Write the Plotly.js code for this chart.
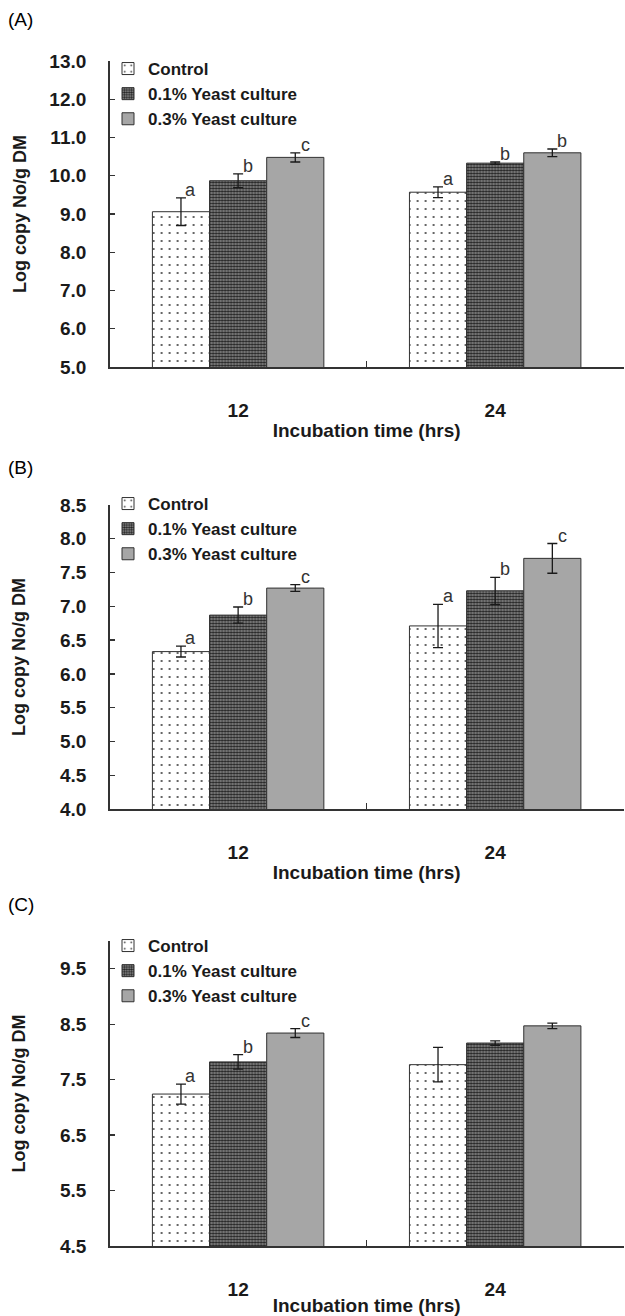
<!DOCTYPE html>
<html>
<head>
<meta charset="utf-8">
<script src="https://cdn.plot.ly/plotly-3.0.1.min.js"></script>
<style>html,body{margin:0;padding:0;background:#fff;}#chart{width:625px;height:1316px;}</style>
</head>
<body>
<div id="chart"></div>
<script>
// ---------- data ----------
const categories = ['12', '24'];
const seriesNames = ['Control', '0.1% Yeast culture', '0.3% Yeast culture'];
const panelLabels = ['(A)', '(B)', '(C)'];
const xTitle = 'Incubation time (hrs)';
const yTitle = 'Log copy No/g DM';

// Panel A
const aControl = [9.06, 9.57];
const aYeast01 = [9.87, 10.33];
const aYeast03 = [10.48, 10.60];
const aControlErr = [0.36, 0.14];
const aYeast01Err = [0.18, 0.03];
const aYeast03Err = [0.12, 0.10];
const aControlLetters = ['a', 'a'];
const aYeast01Letters = ['b', 'b'];
const aYeast03Letters = ['c', 'b'];

// Panel B
const bControl = [6.33, 6.71];
const bYeast01 = [6.87, 7.23];
const bYeast03 = [7.27, 7.71];
const bControlErr = [0.08, 0.32];
const bYeast01Err = [0.12, 0.20];
const bYeast03Err = [0.05, 0.22];
const bControlLetters = ['a', 'a'];
const bYeast01Letters = ['b', 'b'];
const bYeast03Letters = ['c', 'c'];

// Panel C
const cControl = [7.24, 7.77];
const cYeast01 = [7.82, 8.16];
const cYeast03 = [8.34, 8.47];
const cControlErr = [0.18, 0.31];
const cYeast01Err = [0.13, 0.04];
const cYeast03Err = [0.08, 0.05];
const cControlLetters = ['a', ''];
const cYeast01Letters = ['b', ''];
const cYeast03Letters = ['c', ''];

const yRanges = [[5, 13], [4, 8.5], [4.5, 10]];
const yTickVals = [
  [5, 6, 7, 8, 9, 10, 11, 12, 13],
  [4, 4.5, 5, 5.5, 6, 6.5, 7, 7.5, 8, 8.5],
  [4.5, 5.5, 6.5, 7.5, 8.5, 9.5]
];

// ---------- styling ----------
const H = 1316, W = 625;
const FONT = 'Liberation Sans, Arial, Helvetica, sans-serif';
const bold = (s) => ({family: FONT, size: s, color: '#1a1a1a', weight: 'bold'});
const xDomain = [109.6 / W, 623.7 / W];
const yPix = [[61, 367], [505, 809], [941, 1246]]; // top,bottom in px
const legendTop = [51, 486, 928];
const legendFont = [17, 17, 17];
const yTitleStandoff = [18, 29, 29];
const labelY = [20, 467, 905];
const bargap = 0.333;

const styles = [
  {color: '#ffffff', pattern: {shape: '.', fgcolor: '#333333', bgcolor: '#ffffff', size: 8, solidity: 0.05, fillmode: 'replace'}},
  {color: '#5a5a5a', pattern: {shape: '.', fgcolor: '#222222', bgcolor: '#939393', size: 3, solidity: 0.55, fillmode: 'replace'}},
  {color: '#a6a6a6', pattern: {shape: ''}}
];

const panels = [
  {vals: [aControl, aYeast01, aYeast03], errs: [aControlErr, aYeast01Err, aYeast03Err], letters: [aControlLetters, aYeast01Letters, aYeast03Letters]},
  {vals: [bControl, bYeast01, bYeast03], errs: [bControlErr, bYeast01Err, bYeast03Err], letters: [bControlLetters, bYeast01Letters, bYeast03Letters]},
  {vals: [cControl, cYeast01, cYeast03], errs: [cControlErr, cYeast01Err, cYeast03Err], letters: [cControlLetters, cYeast01Letters, cYeast03Letters]}
];

const traces = [];
const annotations = [];
const layout = {
  width: W, height: H,
  margin: {l: 0, r: 0, t: 0, b: 0},
  paper_bgcolor: '#ffffff', plot_bgcolor: '#ffffff',
  barmode: 'group', bargap: bargap, bargroupgap: 0,
  showlegend: true,
  font: {family: FONT, color: '#1a1a1a'}
};

panels.forEach((p, k) => {
  const sfx = k === 0 ? '' : String(k + 1);
  const xa = 'x' + sfx, ya = 'y' + sfx;
  const legendId = 'legend' + sfx;
  p.vals.forEach((v, s) => {
    traces.push({
      type: 'bar', name: seriesNames[s], x: categories, y: v,
      xaxis: xa, yaxis: ya, legend: legendId,
      marker: {color: styles[s].color, pattern: styles[s].pattern, line: {color: '#303030', width: 1}},
      error_y: {type: 'data', array: p.errs[s], visible: true, color: '#1a1a1a', thickness: 1.3, width: 5},
      hoverinfo: 'skip'
    });
    const w = (1 - bargap) / 3;
    v.forEach((val, i) => {
      const t = p.letters[s][i];
      if (!t) return;
      annotations.push({
        xref: xa, yref: ya, x: i + (s - 1) * w, y: val + p.errs[s][i],
        text: t, showarrow: false, xanchor: 'center', yanchor: 'bottom',
        xshift: 10, yshift: -4,
        font: {family: FONT, size: 18, color: '#333333'}
      });
    });
  });

  const top = yPix[k][0], bot = yPix[k][1];
  layout['xaxis' + sfx] = {
    type: 'category', domain: xDomain, anchor: ya, range: [-0.5, 1.5],
    showline: true, linecolor: '#333333', linewidth: 1.5,
    ticks: 'inside', tickson: 'boundaries', ticklen: 6, tickcolor: '#333333', tickwidth: 1.3,
    tickfont: bold(19), ticklabelstandoff: 26,
    showgrid: false, zeroline: false, fixedrange: true,
    title: {text: xTitle, font: bold(19), standoff: 3}
  };
  layout['yaxis' + sfx] = {
    domain: [1 - bot / H, 1 - top / H], anchor: xa, range: yRanges[k],
    tickvals: yTickVals[k], tickformat: '.1f',
    showline: true, linecolor: '#333333', linewidth: 1.5,
    ticks: 'inside', ticklen: 5, tickcolor: '#333333', tickwidth: 1.3,
    tickfont: bold(19), ticklabelstandoff: 18,
    showgrid: false, zeroline: false, fixedrange: true,
    title: {text: yTitle, font: bold(18), standoff: yTitleStandoff[k]}
  };
  layout[legendId] = {
    x: 108 / W, xanchor: 'left', y: 1 - legendTop[k] / H, yanchor: 'top',
    bgcolor: 'rgba(0,0,0,0)', borderwidth: 0,
    font: bold(legendFont[k]), traceorder: 'normal'
  };
  annotations.push({
    xref: 'paper', yref: 'paper', x: 6 / W, y: 1 - labelY[k] / H,
    xanchor: 'left', yanchor: 'middle', showarrow: false,
    text: panelLabels[k], font: {family: FONT, size: 19, color: '#000000'}
  });
});
layout.annotations = annotations;

Plotly.newPlot('chart', traces, layout, {staticPlot: true, displayModeBar: false});
</script>
</body>
</html>
